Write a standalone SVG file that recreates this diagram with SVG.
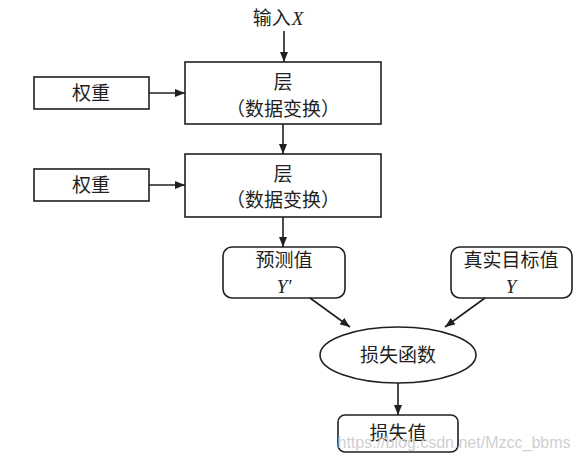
<svg xmlns="http://www.w3.org/2000/svg" width="578" height="460" viewBox="0 0 578 460">
<style>
.box{fill:#fff;stroke:#231f20;stroke-width:1.6}
.ln{stroke:#231f20;stroke-width:1.6;fill:none}
.t{font-family:"Noto Sans CJK SC","Noto Sans",sans-serif;font-size:19px;fill:#231f20;text-anchor:middle}
.m{font-family:"Liberation Serif",serif;font-style:italic;font-size:19px;fill:#231f20}
.wm{font-family:"Liberation Sans",sans-serif;font-size:16px;fill:#d0d0d0;text-anchor:middle}
</style>
<defs>
<marker id="ah" viewBox="0 0 10 8" refX="10" refY="4" markerWidth="10" markerHeight="8" markerUnits="userSpaceOnUse" orient="auto">
<path d="M0,0 L10,4 L0,8 Z" fill="#231f20"/>
</marker>
</defs>
<rect width="578" height="460" fill="#fff"/>
<g id="input"><text class="t" x="278" y="25">输入<tspan class="m" dx="1">X</tspan></text></g>
<g id="w1"><rect class="box" x="34" y="77" width="115" height="32"/><text class="t" x="91" y="100">权重</text></g>
<g id="layer1"><rect class="box" x="185" y="62" width="196" height="62"/><text class="t" x="283" y="89">层</text><text class="t" x="283" y="116">（数据变换）</text></g>
<g id="w2"><rect class="box" x="34" y="169" width="115" height="32"/><text class="t" x="91" y="192">权重</text></g>
<g id="layer2"><rect class="box" x="185" y="154" width="196" height="63"/><text class="t" x="283" y="181">层</text><text class="t" x="283" y="207">（数据变换）</text></g>
<g id="pred"><rect class="box" x="223" y="247" width="122" height="51" rx="9"/><text class="t" x="284" y="267">预测值</text><text class="m" x="284" y="293" text-anchor="middle">Y′</text></g>
<g id="truth"><rect class="box" x="451" y="247" width="121" height="51" rx="9"/><text class="t" x="511" y="267">真实目标值</text><text class="m" x="511" y="293" text-anchor="middle">Y</text></g>
<g id="loss"><ellipse class="box" cx="398" cy="355" rx="78" ry="28"/><text class="t" x="398" y="362">损失函数</text></g>
<g id="lossval"><rect class="box" x="338" y="415" width="120" height="37" rx="7"/><text class="t" x="398" y="440">损失值</text></g>
<g id="connectors">
<line class="ln" x1="284" y1="31" x2="284" y2="62" marker-end="url(#ah)"/>
<line class="ln" x1="149" y1="93" x2="185" y2="93" marker-end="url(#ah)"/>
<line class="ln" x1="283" y1="124" x2="283" y2="154" marker-end="url(#ah)"/>
<line class="ln" x1="149" y1="185" x2="185" y2="185" marker-end="url(#ah)"/>
<line class="ln" x1="283" y1="217" x2="283" y2="247" marker-end="url(#ah)"/>
<line class="ln" x1="310" y1="298" x2="350" y2="327" marker-end="url(#ah)"/>
<line class="ln" x1="485" y1="298" x2="445" y2="327" marker-end="url(#ah)"/>
<line class="ln" x1="398" y1="383" x2="398" y2="415" marker-end="url(#ah)"/>
</g>
<text class="wm" x="454" y="448">https://blog.csdn.net/Mzcc_bbms</text>
</svg>
